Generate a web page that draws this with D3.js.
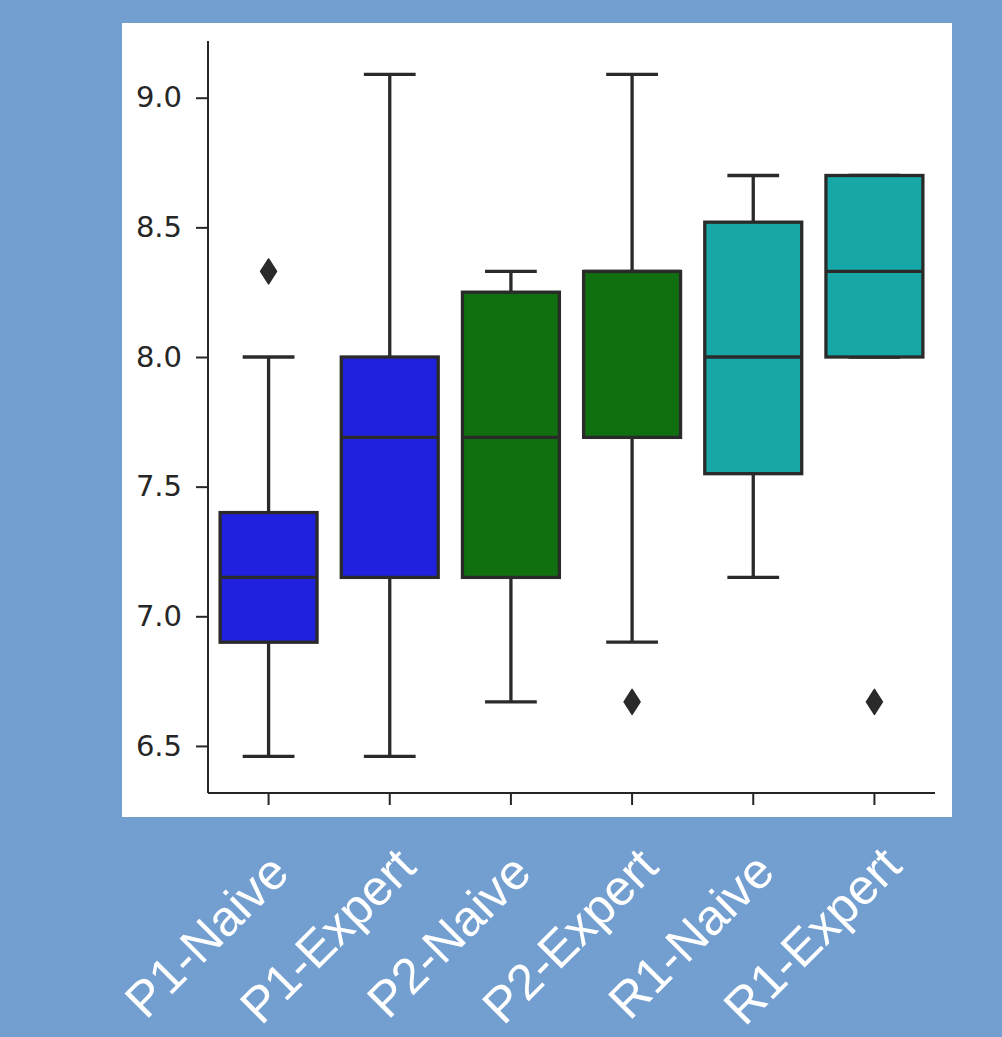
<!DOCTYPE html>
<html>
<head>
<meta charset="utf-8">
<script src="https://cdn.jsdelivr.net/npm/d3@7"></script>
<style>
html,body{margin:0;padding:0;background:#739fd0;}
svg{display:block;}
</style>
</head>
<body>
<svg id="chart" width="1002" height="1037"></svg>
<script>
const categories = ["P1-Naive","P1-Expert","P2-Naive","P2-Expert","R1-Naive","R1-Expert"];
const whiskerLow  = [6.46, 6.46, 6.67, 6.90, 7.15, 8.00];
const q1          = [6.90, 7.15, 7.15, 7.69, 7.55, 8.00];
const median      = [7.15, 7.69, 7.69, 8.33, 8.00, 8.33];
const q3          = [7.40, 8.00, 8.25, 8.33, 8.52, 8.70];
const whiskerHigh = [8.00, 9.09, 8.33, 9.09, 8.70, 8.70];
const outliers    = [[8.33], [], [], [6.67], [], [6.67]];
const boxColors   = ["#2020df","#2020df","#107010","#107010","#18a7a7","#18a7a7"];
const yTicks      = [6.5, 7.0, 7.5, 8.0, 8.5, 9.0];

const svg = d3.select("#chart");
const W = 1002, H = 1037;
svg.append("rect").attr("width", W).attr("height", H).attr("fill", "#739fd0");
// white figure panel
svg.append("rect").attr("x",122).attr("y",23).attr("width",830).attr("height",794).attr("fill","#ffffff");

const pL = 208, pR = 935, pT = 41, pB = 793;
const x = d3.scaleBand().domain(categories).range([pL, pR]).paddingInner(0).paddingOuter(0);
const y = d3.scaleLinear().domain([6.3185, 9.2187]).range([pB, pT]);

const lineColor = "#2a2a2a";
const lw = 3.3;
const bw = x.bandwidth() * 0.8;

const g = svg.append("g");
categories.forEach((c, i) => {
  const cx = x(c) + x.bandwidth()/2;
  const gg = g.append("g");
  // whiskers
  gg.append("line").attr("x1",cx).attr("x2",cx).attr("y1",y(q3[i])).attr("y2",y(whiskerHigh[i]))
    .attr("stroke",lineColor).attr("stroke-width",lw);
  gg.append("line").attr("x1",cx).attr("x2",cx).attr("y1",y(q1[i])).attr("y2",y(whiskerLow[i]))
    .attr("stroke",lineColor).attr("stroke-width",lw);
  // caps
  [whiskerHigh[i], whiskerLow[i]].forEach(v => {
    gg.append("line").attr("x1",cx-bw/4).attr("x2",cx+bw/4).attr("y1",y(v)).attr("y2",y(v))
      .attr("stroke",lineColor).attr("stroke-width",lw).attr("stroke-linecap","square");
  });
  // box
  gg.append("rect").attr("x",cx-bw/2).attr("width",bw)
    .attr("y",y(q3[i])).attr("height",y(q1[i])-y(q3[i]))
    .attr("fill",boxColors[i]).attr("stroke",lineColor).attr("stroke-width",lw);
  // median
  gg.append("line").attr("x1",cx-bw/2).attr("x2",cx+bw/2).attr("y1",y(median[i])).attr("y2",y(median[i]))
    .attr("stroke",lineColor).attr("stroke-width",lw);
  // outliers (thin diamonds)
  outliers[i].forEach(v => {
    const py = y(v);
    gg.append("path")
      .attr("d", `M${cx},${py-12.5} L${cx+8},${py} L${cx},${py+12.5} L${cx-8},${py} Z`)
      .attr("fill",lineColor).attr("stroke",lineColor).attr("stroke-width",1.5).attr("stroke-linejoin","round");
  });
});

// y axis
const yAxis = d3.axisLeft(y).tickValues(yTicks).tickFormat(d3.format(".1f")).tickSize(12).tickPadding(14);
const ya = svg.append("g").attr("transform",`translate(${pL},0)`).call(yAxis);
ya.select(".domain").attr("d",`M0,${pT}V${pB}`).attr("stroke","#262626").attr("stroke-width",2);
ya.selectAll(".tick line").attr("stroke","#262626").attr("stroke-width",2);
ya.selectAll(".tick text").attr("fill","#262626").style("font-family","'DejaVu Sans'").style("font-size","29px");

// x axis
const xAxis = d3.axisBottom(x).tickSize(12).tickFormat("");
const xa = svg.append("g").attr("transform",`translate(0,${pB})`).call(xAxis);
xa.select(".domain").attr("d",`M${pL},0H${pR}`).attr("stroke","#262626").attr("stroke-width",2);
xa.selectAll(".tick line").attr("stroke","#262626").attr("stroke-width",2);

// rotated white category labels
svg.append("g").selectAll("text").data(categories).join("text")
  .attr("transform", d => `translate(${x(d)+x.bandwidth()/2-50},948) rotate(-45)`)
  .attr("text-anchor","middle")
  .attr("fill","#ffffff")
  .style("font-family","'Liberation Sans', Arial, sans-serif")
  .style("font-size","50px")
  .text(d => d);
</script>
</body>
</html>
